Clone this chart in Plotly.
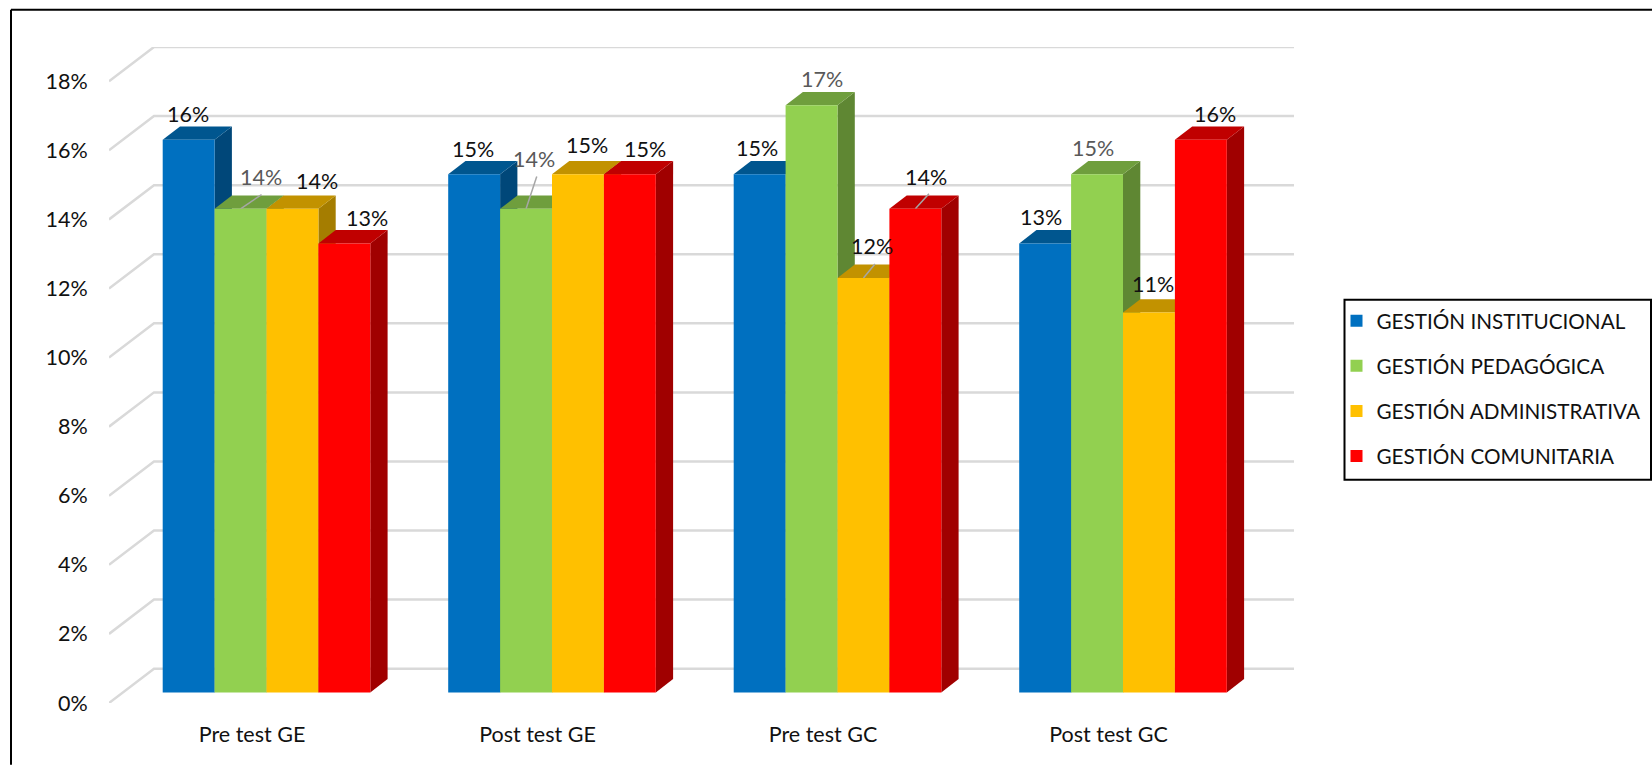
import plotly.graph_objects as go

categories = ["Pre test GE", "Post test GE", "Pre test GC", "Post test GC"]
institucional = [16, 15, 15, 13]
pedagogica = [14, 14, 17, 15]
administrativa = [14, 15, 12, 11]
comunitaria = [13, 15, 14, 16]
series_names = ["GESTIÓN INSTITUCIONAL", "GESTIÓN PEDAGÓGICA", "GESTIÓN ADMINISTRATIVA", "GESTIÓN COMUNITARIA"]
series_values = [institucional, pedagogica, administrativa, comunitaria]
front_colors = ["#0070C0", "#92D050", "#FFC000", "#FF0000"]
top_colors = ["#00568F", "#6F9E3D", "#C29200", "#C00000"]
side_colors = ["#004779", "#5F8733", "#A57D00", "#A00000"]
label_colors = ["#111111", "#595959", "#111111", "#111111"]
y_ticks = [0, 2, 4, 6, 8, 10, 12, 14, 16, 18]
y_tick_text = [f"{t}%" for t in y_ticks]

W, H = 1652, 765
FONT = "Lato"
FS = 21.5
L, R, T, B = 109, 1294, 47.3, 703.3
PX_PER_CAT = 285.5
PX_PER_UNIT = 34.54
BAR_CENTER_PX = 266.5
LABEL_CENTER_PX = 252.0
BAR_FRONT_ZERO_PX = 692.7
BAR_W = 51.9 / PX_PER_CAT
GROUP_W = 4 * BAR_W
DX = 17.3 / PX_PER_CAT
DY = 13.3 / PX_PER_UNIT
GRID_DX = 45.0 / PX_PER_CAT
GRID_DY = 34.3 / PX_PER_UNIT

x_range = [(L - BAR_CENTER_PX) / PX_PER_CAT, (R - BAR_CENTER_PX) / PX_PER_CAT]
x_label_range = [(L - LABEL_CENTER_PX) / PX_PER_CAT, (R - LABEL_CENTER_PX) / PX_PER_CAT]
y_range = [(BAR_FRONT_ZERO_PX - B) / PX_PER_UNIT, (BAR_FRONT_ZERO_PX - T) / PX_PER_UNIT]
y_tick_range = [0, (B - T) / PX_PER_UNIT]
tick_shift = y_range[0]

fig = go.Figure()

# back wall grid lines, in the coordinate frame of the bars' front plane
for t in y_ticks:
    y0 = t + tick_shift
    fig.add_trace(go.Scatter(
        x=[x_range[0], x_range[0] + GRID_DX, x_range[1]],
        y=[y0, y0 + GRID_DY, y0 + GRID_DY],
        mode="lines", line=dict(color="#D9D9D9", width=2.5),
        showlegend=False, hoverinfo="skip", xaxis="x", yaxis="y"))

# depth faces, painted left to right
for g in range(len(categories)):
    for s, vals in enumerate(series_values):
        v = vals[g]
        x0 = g - GROUP_W / 2 + s * BAR_W
        x1 = x0 + BAR_W
        fig.add_trace(go.Scatter(
            x=[x1, x1 + DX, x1 + DX, x1, x1], y=[0, DY, v + DY, v, 0],
            mode="lines", fill="toself", fillcolor=side_colors[s], line=dict(width=0),
            showlegend=False, hoverinfo="skip", xaxis="x", yaxis="y"))
        fig.add_trace(go.Scatter(
            x=[x0, x1, x1 + DX, x0 + DX, x0], y=[v, v, v + DY, v + DY, v],
            mode="lines", fill="toself", fillcolor=top_colors[s], line=dict(width=0),
            showlegend=False, hoverinfo="skip", xaxis="x", yaxis="y"))

# leader lines: (series, group) -> pixel run and rise from the bar's top front edge
leaders = {(1, 0): (21, 14.3), (1, 1): (10.7, 32.3), (2, 2): (11.5, 13.9), (3, 2): (13.6, 15)}
for (s, g), (run, rise) in leaders.items():
    v = series_values[s][g]
    xc = g - GROUP_W / 2 + (s + 0.5) * BAR_W
    fig.add_trace(go.Scatter(
        x=[xc, xc + run / PX_PER_CAT], y=[v, v + rise / PX_PER_UNIT],
        mode="lines", line=dict(color="#A6A6A6", width=1.5),
        showlegend=False, hoverinfo="skip", xaxis="x", yaxis="y"))

# front faces
for s, vals in enumerate(series_values):
    fig.add_trace(go.Bar(
        x=categories, y=vals, name=series_names[s], legendgroup=series_names[s],
        marker=dict(color=front_colors[s], line=dict(width=0)),
        xaxis="x2", yaxis="y2"))

# carrier for the category and percent tick labels
fig.add_trace(go.Scatter(
    x=categories, y=[0] * len(categories), mode="markers", opacity=0, marker=dict(size=1),
    showlegend=False, hoverinfo="skip", xaxis="x3", yaxis="y3"))

# data labels: pixel offsets (group, series) from the front top-left corner of the bar
label_offsets = {
    (0, 0): (25.6, 25.5), (0, 1): (46.7, 32.3), (0, 2): (50.7, 28), (0, 3): (49, 25.4),
    (1, 0): (24.8, 25.6), (1, 1): (33.4, 50.3), (1, 2): (35.2, 28.9), (1, 3): (40.6, 25.6),
    (2, 0): (23.5, 26.3), (2, 1): (36.7, 26.2), (2, 2): (34.7, 31.5), (2, 3): (36.5, 32.3),
    (3, 0): (22, 26.4), (3, 1): (22.2, 25.9), (3, 2): (30.2, 28.8), (3, 3): (40.3, 25.7),
}
annotations = []
for g in range(len(categories)):
    for s, vals in enumerate(series_values):
        dx, dy = label_offsets[(g, s)]
        annotations.append(dict(
            x=g - GROUP_W / 2 + s * BAR_W, y=vals[g], xref="x", yref="y",
            text=f"{vals[g]}%", showarrow=False, xshift=dx, yshift=dy,
            font=dict(family=FONT, size=FS, color=label_colors[s])))


def px(v):
    return (v - L) / (R - L)


def py(v):
    return (B - v) / (B - T)


frame = dict(xref="paper", yref="paper", line=dict(color="black", width=2), type="line")
shapes = [
    dict(x0=px(11), x1=px(11), y0=py(10), y1=py(H), **frame),
    dict(x0=px(11), x1=px(W), y0=py(10), y1=py(10), **frame),
    dict(type="rect", xref="paper", yref="paper", x0=px(1344.5), x1=px(1651), y0=py(300), y1=py(480),
         line=dict(color="black", width=2), fillcolor="white", layer="above"),
]

axis_off = dict(showgrid=False, zeroline=False, showline=False, ticks="", showticklabels=False, fixedrange=True)
fig.update_layout(
    width=W, height=H,
    margin=dict(l=L, r=W - R, t=T, b=H - B, autoexpand=False),
    paper_bgcolor="white", plot_bgcolor="white",
    font=dict(family=FONT, size=FS, color="#111111"),
    barmode="group", bargap=1 - GROUP_W, bargroupgap=0,
    xaxis=dict(type="linear", range=x_range, **axis_off),
    yaxis=dict(type="linear", range=y_range, **axis_off),
    xaxis2=dict(type="category", categoryorder="array", categoryarray=categories, range=x_range,
                overlaying="x", anchor="y2", **axis_off),
    yaxis2=dict(type="linear", range=y_range, overlaying="y", anchor="x2", **axis_off),
    xaxis3=dict(type="category", categoryorder="array", categoryarray=categories, range=x_label_range,
                overlaying="x", anchor="y3", showgrid=False, zeroline=False, showline=False,
                ticks="outside", ticklen=12, tickcolor="rgba(0,0,0,0)", tickfont=dict(family=FONT, size=FS, color="#111111"),
                fixedrange=True),
    yaxis3=dict(type="linear", range=y_tick_range, overlaying="y", anchor="x3", showgrid=False, zeroline=False,
                showline=False, tickmode="array", tickvals=y_ticks, ticktext=y_tick_text,
                ticks="outside", ticklen=16, tickcolor="rgba(0,0,0,0)", tickfont=dict(family=FONT, size=FS, color="#111111"),
                fixedrange=True),
    legend=dict(x=px(1336.5), xanchor="left", y=py(301), yanchor="top",
                bgcolor="rgba(0,0,0,0)", borderwidth=0,
                font=dict(family=FONT, size=20.7, color="#111111"), tracegroupgap=15.2,
                traceorder="grouped"),
    annotations=annotations, shapes=shapes, showlegend=True,
)

fig.write_html("out.html", config=dict(displayModeBar=False),
               post_script="document.body.style.margin='0';document.body.style.overflow='hidden';")
